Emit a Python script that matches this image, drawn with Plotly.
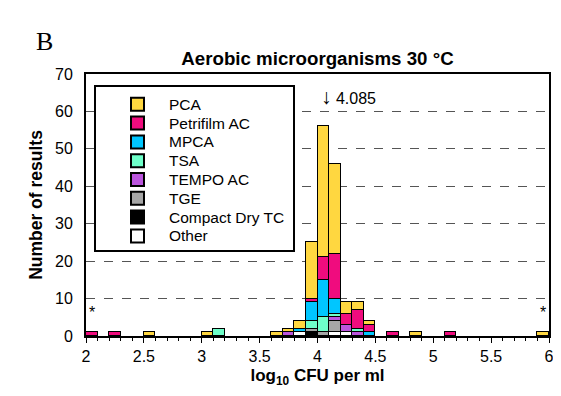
import plotly.graph_objects as go

# bin centres (log10 CFU per ml), bin width 0.1
bins = [2.05, 2.25, 2.55, 3.05, 3.15, 3.65, 3.75, 3.85, 3.95, 4.05, 4.15, 4.25, 4.35, 4.45, 4.65, 4.85, 5.15, 5.95]

# counts per method (same order as bins)
other       = [0, 0, 0, 0, 0, 0, 0, 1, 0, 0, 1, 1, 0, 0, 0, 0, 0, 0]
compact_dry = [0, 0, 0, 0, 0, 0, 0, 0, 1, 0, 0, 0, 0, 0, 0, 0, 0, 0]
tge         = [0, 0, 0, 0, 0, 0, 0, 0, 1, 1, 3, 0, 0, 0, 0, 0, 0, 0]
tempo_ac    = [0, 0, 0, 0, 0, 0, 1, 0, 0, 0, 1, 2, 1, 0, 0, 0, 0, 0]
tsa         = [0, 0, 0, 0, 2, 0, 0, 0, 2, 4, 1, 0, 1, 0, 0, 0, 0, 0]
mpca        = [0, 0, 0, 0, 0, 0, 0, 1, 5, 10, 4, 0, 0, 1, 0, 0, 0, 0]
petrifilm   = [1, 1, 0, 0, 0, 0, 0, 0, 1, 6, 12, 3, 5, 2, 1, 0, 1, 0]
pca         = [0, 0, 1, 1, 0, 1, 1, 2, 15, 35, 24, 3, 2, 1, 0, 1, 0, 1]

# stacking order: bottom first
series_names = ["Other", "Compact Dry TC", "TGE", "TEMPO AC", "TSA", "MPCA", "Petrifilm AC", "PCA"]
series_values = [other, compact_dry, tge, tempo_ac, tsa, mpca, petrifilm, pca]
series_colors = ["#FFFFFF", "#000000", "#A6A6A6", "#BB55DD", "#6EFFC9", "#00C6FF", "#F00C7E", "#FFD740"]

x_ticks = [2, 2.5, 3, 3.5, 4, 4.5, 5, 5.5, 6]
x_ticklabels = ["2", "2.5", "3", "3.5", "4", "4.5", "5", "5.5", "6"]
y_ticks = [0, 10, 20, 30, 40, 50, 60, 70]

median_value = 4.085
outlier_marks = [2.05, 5.95]

FONT = "Liberation Sans, Arial, sans-serif"

# page geometry (browser body has an 8px margin)
FIG_W, FIG_H = 545, 380
PX0, PX1, PY0, PY1 = 86, 549, 74, 336


def px(xp):
    return (xp - PX0) / (PX1 - PX0)


def py(yp):
    return 1 - (yp - PY0) / (PY1 - PY0)


fig = go.Figure()
for name, vals, col in zip(series_names, series_values, series_colors):
    fig.add_trace(go.Bar(
        x=bins, y=[v if v else None for v in vals], name=name, width=0.1,
        marker=dict(color=col, line=dict(color="black", width=1)),
        showlegend=False,
    ))

annotations = [
    dict(x=median_value, y=64, xref="x", yref="y",
         text="<span style='font-size:21px'>\u2193</span> 4.085", showarrow=False,
         xanchor="left", xshift=-8, font=dict(size=16, color="black", family=FONT)),
    dict(x=px(44), y=py(41), xref="paper", yref="paper", text="B", showarrow=False,
         xanchor="center", yanchor="middle",
         font=dict(size=26, color="black", family="Liberation Serif, Times New Roman, serif")),
]
for xo in outlier_marks:
    annotations.append(dict(x=xo, y=6.3, xref="x", yref="y", text="*", showarrow=False,
                            font=dict(size=16, color="black", family=FONT)))

# legend box (drawn manually to match the compact row spacing)
shapes = [dict(type="rect", xref="paper", yref="paper", x0=px(95), x1=px(294), y0=py(251), y1=py(86),
               line=dict(color="black", width=2), fillcolor="white", layer="above")]
row0, row_step = 104.3, 18.8
legend_order = list(zip(series_names, series_colors))[::-1]
for i, (name, col) in enumerate(legend_order):
    yc = row0 + i * row_step
    shapes.append(dict(type="rect", xref="paper", yref="paper", x0=px(131), x1=px(144),
                       y0=py(yc + 6.5), y1=py(yc - 6.5), line=dict(color="black", width=2),
                       fillcolor=col, layer="above"))
    annotations.append(dict(x=px(167), y=py(yc), xref="paper", yref="paper", text=name,
                            showarrow=False, xanchor="left", yanchor="middle",
                            font=dict(size=15.5, color="black", family=FONT)))

fig.update_layout(
    template="none",
    width=FIG_W, height=FIG_H,
    margin=dict(l=PX0 - 8, r=8 + FIG_W - PX1, t=PY0 - 8, b=8 + FIG_H - PY1, autoexpand=False),
    paper_bgcolor="white", plot_bgcolor="white",
    barmode="stack", bargap=0,
    font=dict(family=FONT, size=16, color="black"),
    title=dict(text="<b>Aerobic microorganisms 30 \u00b0C</b>", x=0.5, xref="paper",
               y=1 - (58 - 8) / FIG_H, yref="container", yanchor="middle", xanchor="center",
               font=dict(size=18.7, family=FONT, color="black")),
    showlegend=False,
    annotations=annotations,
    shapes=shapes,
)
fig.update_xaxes(
    range=[2, 6], tickvals=x_ticks, ticktext=x_ticklabels, automargin=False,
    ticklabeloverflow="allow",
    showline=True, linecolor="black", linewidth=2, mirror=True,
    ticks="outside", ticklen=5, tickcolor="black", tickwidth=1,
    minor=dict(dtick=0.1, tick0=2, ticks="outside", ticklen=3, tickcolor="black", tickwidth=1, showgrid=False),
    showgrid=False, zeroline=False,
    tickfont=dict(size=16, family=FONT),
    title=dict(text="<b>log<sub>10</sub> CFU per ml</b>", font=dict(size=17, family=FONT), standoff=8),
)
fig.update_yaxes(
    range=[0, 70], tickvals=y_ticks, automargin=False,
    showline=True, linecolor="black", linewidth=2, mirror=True,
    ticks="", showgrid=True, gridcolor="#555555", griddash="dash", gridwidth=1,
    zeroline=False, ticklabelstandoff=8,
    tickfont=dict(size=16, family=FONT),
    title=dict(text="<b>Number of results</b>", font=dict(size=17.5, family=FONT), standoff=8),
)
fig.write_html("out.html")
